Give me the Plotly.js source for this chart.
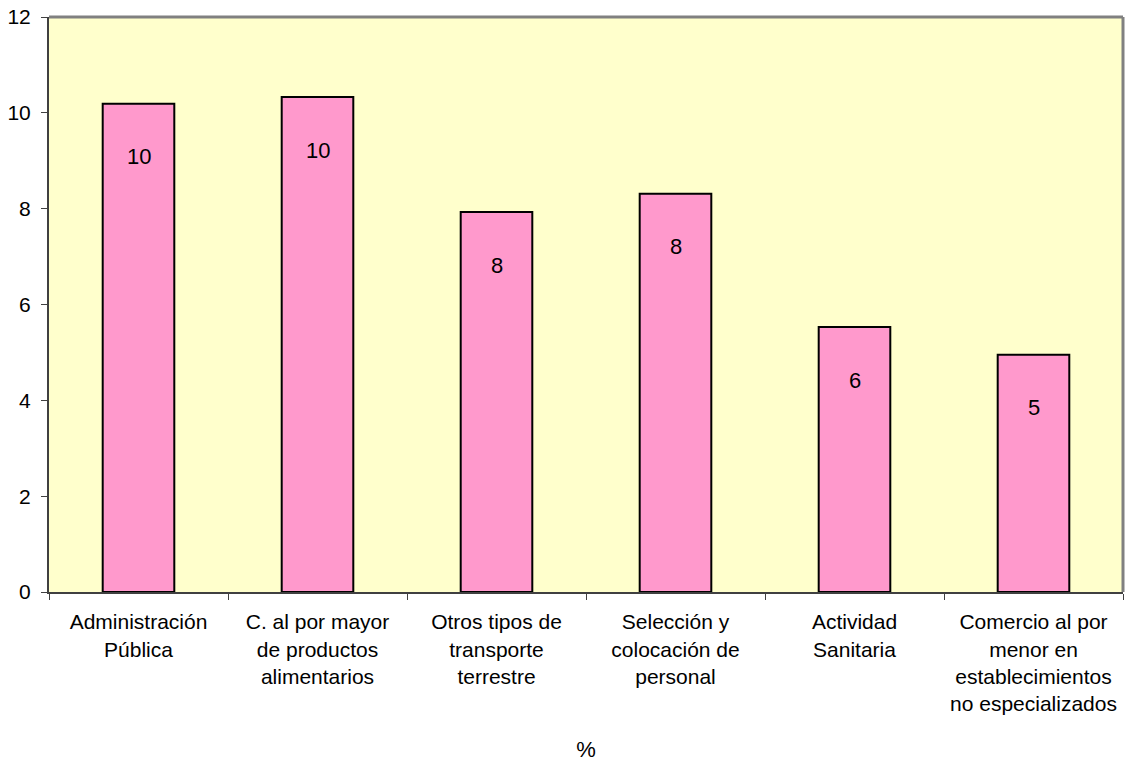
<!DOCTYPE html>
<html>
<head>
<meta charset="utf-8">
<script src="https://cdn.plot.ly/plotly-3.0.1.min.js"></script>
<style>html,body{margin:0;padding:0;background:#fff;}#chart{width:1127px;height:763px;}</style>
</head>
<body>
<div id="chart"></div>
<script>
const categories = [
  "Administración<br>Pública",
  "C. al por mayor<br>de productos<br>alimentarios",
  "Otros tipos de<br>transporte<br>terrestre",
  "Selección y<br>colocación de<br>personal",
  "Actividad<br>Sanitaria",
  "Comercio al por<br>menor en<br>establecimientos<br>no especializados"
];
const values = [10.19, 10.33, 7.93, 8.31, 5.53, 4.95];
const yTicks = [0, 2, 4, 6, 8, 10, 12];

const font = "Liberation Sans, Arial, sans-serif";

const trace = {
  type: "bar",
  x: categories,
  y: values,
  width: 0.4,
  marker: {color: "#FF99CC", line: {color: "#000000", width: 2}},
  hoverinfo: "skip"
};

const annotations = categories.map((c, i) => ({
  x: c, y: values[i], xref: "x", yref: "y",
  text: String(Math.round(values[i])),
  showarrow: false, yshift: -53,
  font: {family: font, size: 22, color: "#000"}
}));

const layout = {
  width: 1127, height: 763,
  margin: {l: 49, r: 4, t: 17, b: 171},
  paper_bgcolor: "#ffffff",
  plot_bgcolor: "#FFFFCC",
  showlegend: false,
  font: {family: font, size: 21, color: "#000"},
  xaxis: {
    type: "category",
    tickson: "boundaries",
    ticks: "outside", ticklen: 6, tickcolor: "#404040",
    showline: true, linecolor: "#404040", linewidth: 2, mirror: false,
    showgrid: false, zeroline: false,
    tickfont: {family: font, size: 21, color: "#000"},
    ticklabelstandoff: 10,
    title: {text: "%", font: {family: font, size: 22, color: "#000"}, standoff: 28},
    automargin: false
  },
  yaxis: {
    range: [0, 12],
    tickvals: yTicks,
    ticks: "outside", ticklen: 6, tickcolor: "#404040",
    showline: true, linecolor: "#404040", linewidth: 2,
    showgrid: false, zeroline: false,
    tickfont: {family: font, size: 21, color: "#000"},
    ticklabelstandoff: 6,
    automargin: false
  },
  shapes: [
    {type: "line", xref: "paper", yref: "paper", x0: 0, x1: 1, y0: 1, y1: 1, line: {color: "#808080", width: 3}},
    {type: "line", xref: "paper", yref: "paper", x0: 1, x1: 1, y0: 0, y1: 1, line: {color: "#808080", width: 3}}
  ],
  annotations: annotations
};

Plotly.newPlot("chart", [trace], layout, {displayModeBar: false, staticPlot: true});
</script>
</body>
</html>
